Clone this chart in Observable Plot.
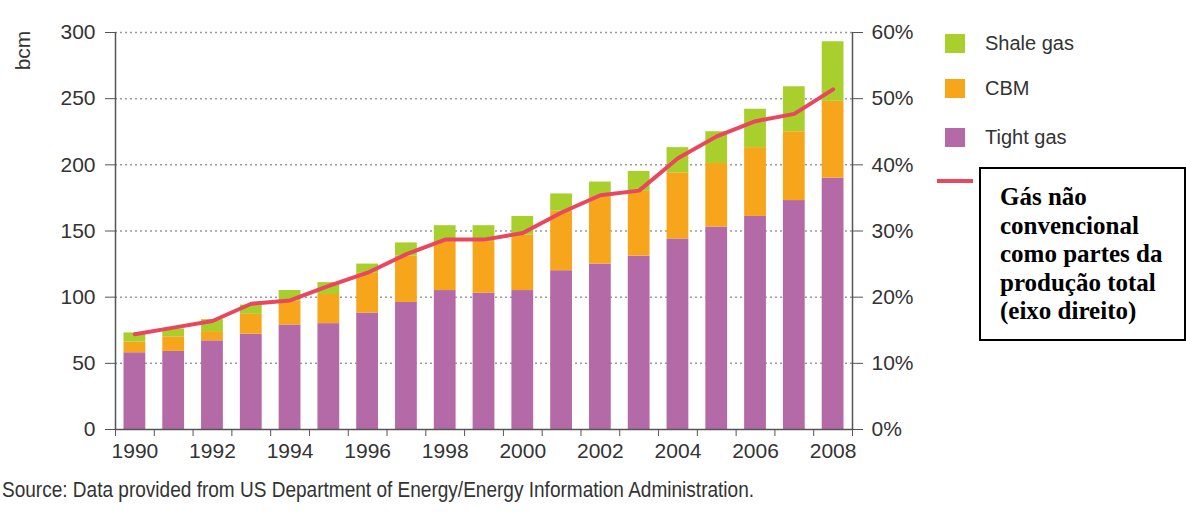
<!DOCTYPE html>
<html>
<head>
<meta charset="utf-8">
<script src="https://cdn.jsdelivr.net/npm/d3@7"></script>
<script src="https://cdn.jsdelivr.net/npm/@observablehq/plot@0.6"></script>
<style>
  html, body { margin: 0; padding: 0; background: #fff; }
  #page { position: relative; width: 1186px; height: 513px; overflow: hidden; }
  .narrow { font-family: 'Liberation Sans', Arial, sans-serif; color: #333; }
  .leg { position: absolute; font-size: 20px; line-height: 22px; }
  .sw { position: absolute; width: 20px; height: 19px; }
  #box { position: absolute; left: 979px; top: 167px; border: 2px solid #000;
         font-family: 'Liberation Serif', 'Times New Roman', serif; font-weight: bold; font-size: 25px; line-height: 28.5px;
         color: #000; padding: 14px 0 0 19px; box-sizing: border-box; width: 207px; height: 174px; }
  #caption { position: absolute; left: 2px; top: 477px; font-size: 22px; white-space: nowrap;
             transform: scaleX(0.865); transform-origin: 0 0; }
</style>
</head>
<body>
<div id="page">
  <div id="chart"></div>
  <div id="legend"></div>
  <div id="box">Gás não<br>convencional<br>como partes da<br>produção total<br>(eixo direito)</div>
  <div id="caption" class="narrow">Source: Data provided from US Department of Energy/Energy Information Administration.</div>
</div>
<script>
// ---- data ----
const years = [1990, 1991, 1992, 1993, 1994, 1995, 1996, 1997, 1998, 1999, 2000, 2001, 2002, 2003, 2004, 2005, 2006, 2007, 2008];
const tightGas = [58, 59, 67, 72, 79, 80, 88, 96, 105, 103, 105, 120, 125, 131, 144, 153, 161, 173, 190];
const cbm      = [8, 11, 7, 15, 18, 22, 30, 35, 37, 39, 42, 45, 51, 49, 50, 48, 52, 52, 58];
const shaleGas = [7, 6, 9, 7, 8, 9, 7, 10, 12, 12, 14, 13, 11, 15, 19, 24, 29, 34, 45];
const unconvSharePct = [14.4, 15.4, 16.4, 19.0, 19.5, 21.7, 23.7, 26.5, 28.7, 28.7, 29.7, 32.8, 35.4, 36.1, 41.0, 44.3, 46.6, 47.7, 51.4];

const seriesNames = ["Tight gas", "CBM", "Shale gas"];
const seriesColors = ["#b36aa6", "#f7a61c", "#a8cf2c"];
const lineColor = "#e9475f";
const leftTicks = [0, 50, 100, 150, 200, 250, 300];
const rightTicksPct = [0, 10, 20, 30, 40, 50, 60];
const labelYears = [1990, 1992, 1994, 1996, 1998, 2000, 2002, 2004, 2006, 2008];
const axisUnit = "bcm";
const pctPerBcm = 60 / 300; // right axis: 300 bcm <-> 60%

// ---- build stacked table ----
const seriesValues = [tightGas, cbm, shaleGas];
const rows = [];
years.forEach((yr, i) => {
  let base = 0;
  seriesNames.forEach((name, s) => {
    const v = seriesValues[s][i];
    rows.push({year: yr, type: name, y1: base, y2: base + v});
    base += v;
  });
});
const lineRows = years.map((yr, i) => ({year: yr, share: unconvSharePct[i]}));
const boundaries = [years[0] - 0.5, ...years.map(y => y + 0.5)];

const FONT = "'Liberation Sans', Arial, sans-serif";

const chart = Plot.plot({
  width: 1186,
  height: 470,
  marginLeft: 115,
  marginRight: 334,
  marginTop: 32,
  marginBottom: 41,
  x: {type: "linear", domain: [years[0] - 0.5, years[years.length - 1] + 0.5]},
  y: {domain: [0, 300]},
  color: {domain: seriesNames, range: seriesColors},
  style: {fontFamily: FONT, fontSize: "21px", color: "#333", background: "transparent"},
  marks: [
    Plot.ruleY(leftTicks.filter(v => v > 0), {stroke: "#9a9a9a", strokeWidth: 1.5, strokeDasharray: "2,3"}),
    Plot.rect(rows, {x1: d => d.year - 0.5, x2: d => d.year + 0.5, y1: "y1", y2: "y2", fill: "type", insetLeft: 8.5, insetRight: 8.5}),
    Plot.line(lineRows, {x: "year", y: d => d.share / pctPerBcm, stroke: lineColor, strokeWidth: 4, strokeLinejoin: "round"}),
    Plot.ruleY([0], {stroke: "#555", strokeWidth: 1.5}),
    Plot.ruleX([years[0] - 0.5, years[years.length - 1] + 0.5], {y1: 0, y2: 300, stroke: "#555", strokeWidth: 1.5}),
    Plot.axisY({anchor: "left", ticks: leftTicks, tickSize: 10, tickPadding: 10, label: null, stroke: "#555"}),
    Plot.axisY({anchor: "right", ticks: rightTicksPct.map(p => p / pctPerBcm), tickFormat: d => Math.round(d * pctPerBcm) + "%", tickSize: 10, tickPadding: 9, label: null, stroke: "#555"}),
    Plot.axisX({ticks: boundaries, tickSize: 7, tickFormat: () => "", label: null, stroke: "#555"}),
    Plot.axisX({ticks: labelYears, tickSize: 0, tickPadding: 14, tickFormat: d => String(d), label: null}),
    Plot.text([axisUnit], {text: d => d, frameAnchor: "top-left", textAnchor: "middle", lineAnchor: "middle", dx: -92, dy: 18, rotate: -90, fontSize: 21, fill: "#333"})
  ]
});
document.getElementById("chart").appendChild(chart);

// ---- legend (HTML, to the right of the plot) ----
const legend = document.getElementById("legend");
const legendOrder = ["Shale gas", "CBM", "Tight gas"];
const legendTops = [34, 79, 128];
legendOrder.forEach((name, k) => {
  const sw = document.createElement("div");
  sw.className = "sw";
  sw.style.left = "945px";
  sw.style.top = legendTops[k] + "px";
  sw.style.background = seriesColors[seriesNames.indexOf(name)];
  legend.appendChild(sw);
  const t = document.createElement("div");
  t.className = "leg narrow";
  t.style.left = "985px";
  t.style.top = (legendTops[k] - 2) + "px";
  t.textContent = name;
  legend.appendChild(t);
});
const ln = document.createElement("div");
ln.style.cssText = `position:absolute;left:937px;top:179px;width:36px;height:4px;background:${lineColor};`;
legend.appendChild(ln);
</script>
</body>
</html>
